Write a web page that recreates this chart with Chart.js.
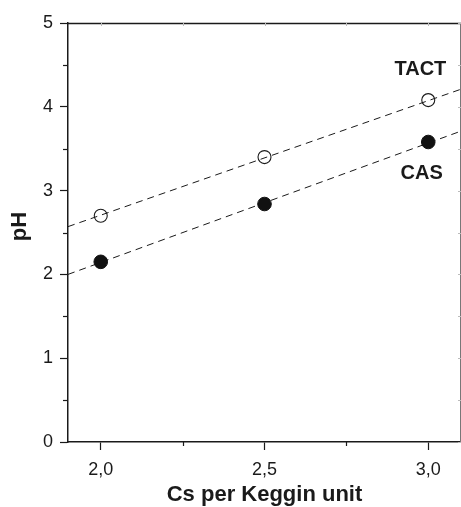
<!DOCTYPE html>
<html>
<head>
<meta charset="utf-8">
<script src="https://cdn.jsdelivr.net/npm/chart.js@4.4.1/dist/chart.umd.min.js"></script>
<style>
  html, body { margin: 0; padding: 0; background: #fff; }
  #wrap { width: 461px; height: 507px; }
</style>
</head>
<body>
<div id="wrap"><canvas id="c" width="461" height="507"></canvas></div>
<script>
// Cs loading per Keggin unit and the measured pH of the two series
const csLoading = [2.0, 2.5, 3.0];
const phTACT = [2.70, 3.40, 4.08];
const phCAS = [2.15, 2.84, 3.58];

// Linear trend lines, given by their values at both ends of the x range
const trendX = [1.9, 3.1];
const trendTACT = [2.57, 4.21];
const trendCAS = [2.00, 3.71];

// Axis ticks
const xMajorTicks = [2.0, 2.5, 3.0];
const xMinorTicks = [2.25, 2.75];
const yMajorTicks = [0, 1, 2, 3, 4, 5];
const yMinorTicks = [0.5, 1.5, 2.5, 3.5, 4.5];

// Series names written beside the points (in data units)
const seriesNames = [
  { text: 'TACT', x: 2.976, y: 4.44 },
  { text: 'CAS', x: 2.98, y: 3.21 }
];
const yTitle = 'pH';

const FONT = '"Liberation Sans", Arial, Helvetica, sans-serif';
const INK = '#1a1a1a';

const toPoints = (xs, ys) => xs.map((x, i) => ({ x: x, y: ys[i] }));

const frameAndTicks = {
  id: 'frameAndTicks',
  afterDraw(chart) {
    const ctx = chart.ctx;
    const { left, right, top, bottom } = chart.chartArea;
    const xs = chart.scales.x, ys = chart.scales.y;
    const line = (x1, y1, x2, y2) => { ctx.beginPath(); ctx.moveTo(x1, y1); ctx.lineTo(x2, y2); ctx.stroke(); };
    ctx.save();
    // top and right sides of the frame
    ctx.strokeStyle = INK; ctx.lineWidth = 1.5;
    line(left, top + 0.5, right, top + 0.5);
    ctx.strokeStyle = '#777'; ctx.lineWidth = 1;
    line(right - 0.5, top, right - 0.5, bottom);
    // short outer minor ticks
    ctx.strokeStyle = INK; ctx.lineWidth = 1.2;
    xMinorTicks.forEach(v => { const px = Math.round(xs.getPixelForValue(v)) + 0.5; line(px, bottom, px, bottom + 4); });
    yMinorTicks.forEach(v => { const py = Math.round(ys.getPixelForValue(v)) + 0.5; line(left - 5, py, left, py); });
    // faint inner ticks on the top and right sides
    ctx.strokeStyle = '#bbb'; ctx.lineWidth = 1;
    xMajorTicks.concat(xMinorTicks).forEach(v => { const px = Math.round(xs.getPixelForValue(v)) + 0.5; line(px, top, px, top + 3); });
    yMajorTicks.concat(yMinorTicks).forEach(v => { const py = Math.round(ys.getPixelForValue(v)) + 0.5; line(right - 3, py, right, py); });
    // rotated y-axis title, sitting a little above the middle of the axis
    ctx.fillStyle = INK;
    ctx.font = 'bold 22px ' + FONT;
    ctx.textAlign = 'center';
    ctx.textBaseline = 'alphabetic';
    ctx.translate(left - 42, (top + bottom) / 2 - 6);
    ctx.rotate(-Math.PI / 2);
    ctx.fillText(yTitle, 0, 0);
    ctx.restore();
  },
  afterDatasetsDraw(chart) {
    const ctx = chart.ctx;
    const xs = chart.scales.x, ys = chart.scales.y;
    ctx.save();
    ctx.fillStyle = INK;
    ctx.font = 'bold 20px ' + FONT;
    ctx.textAlign = 'center';
    ctx.textBaseline = 'middle';
    seriesNames.forEach(n => ctx.fillText(n.text, xs.getPixelForValue(n.x), ys.getPixelForValue(n.y)));
    ctx.restore();
  }
};

new Chart(document.getElementById('c'), {
  type: 'scatter',
  data: {
    datasets: [
      {
        label: 'TACT trend', data: toPoints(trendX, trendTACT), showLine: true,
        borderColor: INK, borderWidth: 1, borderDash: [7, 5], pointRadius: 0, order: 3
      },
      {
        label: 'CAS trend', data: toPoints(trendX, trendCAS), showLine: true,
        borderColor: INK, borderWidth: 1, borderDash: [7, 5], pointRadius: 0, order: 3
      },
      {
        label: 'TACT', data: toPoints(csLoading, phTACT),
        pointRadius: 6.5, pointBackgroundColor: 'rgba(0,0,0,0)', pointBorderColor: INK, pointBorderWidth: 1.1, order: 1
      },
      {
        label: 'CAS', data: toPoints(csLoading, phCAS),
        pointRadius: 6.8, pointBackgroundColor: '#111', pointBorderColor: '#111', pointBorderWidth: 1, order: 1
      }
    ]
  },
  options: {
    responsive: false,
    devicePixelRatio: 1,
    animation: false,
    layout: { autoPadding: false, padding: { top: 23, right: 0, bottom: 0, left: 0 } },
    plugins: { legend: { display: false }, tooltip: { enabled: false } },
    scales: {
      x: {
        type: 'linear', min: 1.9, max: 3.1,
        afterBuildTicks: s => { s.ticks = xMajorTicks.map(v => ({ value: v })); },
        afterFit: s => { s.height = 65; s.paddingLeft = 0; s.paddingRight = 0; },
        ticks: {
          autoSkip: false, maxRotation: 0, padding: 9, color: INK,
          font: { family: FONT, size: 18 },
          callback: v => Number(v).toFixed(1).replace('.', ',')
        },
        grid: { drawOnChartArea: false, drawTicks: true, tickLength: 8, tickColor: INK, tickWidth: 1.2 },
        border: { display: true, color: INK, width: 1.5 },
        title: {
          display: true, text: 'Cs per Keggin unit', color: INK,
          font: { family: FONT, size: 22, weight: 'bold', lineHeight: 1 },
          padding: { top: 0, bottom: 1 }
        }
      },
      y: {
        type: 'linear', min: 0, max: 5,
        afterBuildTicks: s => { s.ticks = yMajorTicks.map(v => ({ value: v })); },
        afterFit: s => { s.width = 68; s.paddingTop = 0; s.paddingBottom = 0; },
        ticks: {
          autoSkip: false, padding: 7, color: INK,
          font: { family: FONT, size: 18 },
          callback: v => String(v)
        },
        grid: { drawOnChartArea: false, drawTicks: true, tickLength: 8, tickColor: INK, tickWidth: 1.2 },
        border: { display: true, color: INK, width: 1.5 },
        title: { display: false }
      }
    }
  },
  plugins: [frameAndTicks]
});
</script>
</body>
</html>
